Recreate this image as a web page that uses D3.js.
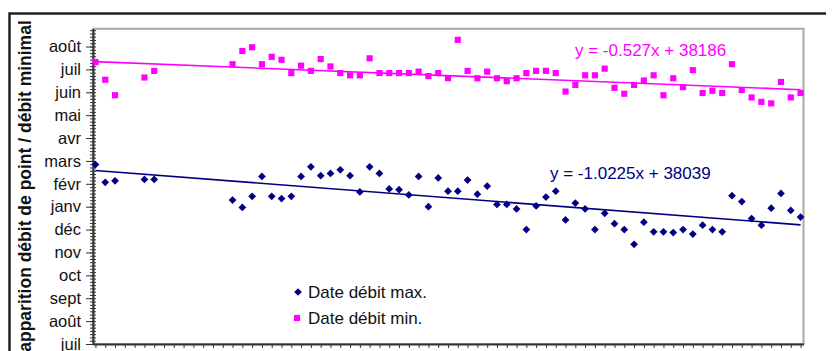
<!DOCTYPE html>
<html>
<head>
<meta charset="utf-8">
<title>Date des débits max / min</title>
<style>
  body { margin: 0; background: #fff; }
  svg { display: block; font-family: Arial, "Liberation Sans", sans-serif; }
  .axis path, .axis line { stroke: #333; }
  .axis text { font-size: 16.5px; fill: #111; }
  .frame { fill: none; stroke: #222; stroke-width: 2.5; }
  .plot-border { fill: none; stroke: #a8a8a8; stroke-width: 2; }
  .title { font-size: 17.5px; font-weight: bold; fill: #111; }
  .legend text { font-size: 17px; fill: #111; }
  .eq { font-size: 17px; }
</style>
</head>
<body>
<svg width="833" height="351"></svg>
<script src="https://cdnjs.cloudflare.com/ajax/libs/d3/7.8.5/d3.min.js"></script>
<script>
// x = year number (1..73), y = excel date serial of the day the flow happened
var years = d3.range(1, 74);

var dateMax = [38046, 38022, 38024, null, null, 38026, 38026, null, null, null,
               null, null, null, null, 37998, 37988, 38003, 38030, 38003, 38000,
               38003, 38030, 38043, 38031, 38034, 38039, 38031, 38009, 38043, 38034,
               38013, 38012, 38005, 38030, 37989, 38028, 38010, 38010, 38025, 38006,
               38017, 37992, 37992, 37986, 37958, 37990, 38002, 38010, 37971, 37994,
               37986, 37958, 37980, 37966, 37958, 37938, 37968, 37955, 37955, 37954,
               37958, 37952, 37964, 37958, 37955, 38004, 37996, 37973, 37964, 37987,
               38007, 37984, 37975];

var dateMin = [38185, 38161, 38140, null, null, 38164, 38173, null, null, null,
               null, null, null, null, 38182, 38200, 38205, 38182, 38192, 38188,
               38170, 38180, 38173, 38189, 38179, 38170, 38167, 38167, 38190, 38170,
               38170, 38170, 38170, 38172, 38166, 38170, 38163, 38215, 38173, 38163,
               38172, 38163, 38159, 38163, 38170, 38173, 38173, 38170, 38145, 38154,
               38167, 38167, 38176, 38150, 38142, 38154, 38160, 38167, 38140, 38163,
               38151, 38174, 38143, 38146, 38143, 38182, 38147, 38137, 38131, 38129,
               38158, 38137, 38143];

// trend lines as printed on the chart: [slope, intercept]
var trendMax = [-1.0225, 38039];
var trendMin = [-0.527, 38186];

var monthLabels = ["juil", "août", "sept", "oct", "nov", "déc", "janv",
                   "févr", "mars", "avr", "mai", "juin", "juil", "août"];
var yStart = 37803, yEnd = 38230, yStep = 31;

var seriesNames = ["Date débit max.", "Date débit min."];
var colors = ["#000080", "#ff00ff"];

var svg = d3.select("svg");

var pLeft = 93, pRight = 803.5, pTop = 28.8, pBottom = 344;

var x = d3.scaleLinear().domain([0.75, 73.3]).range([pLeft, pRight]);
var y = d3.scaleLinear().domain([yStart, yEnd]).range([pBottom, pTop]);

var majorTicks = monthLabels.map(function(d, i) { return yStart + i * yStep; });
var minorTicks = d3.range(yStart, yEnd, yStep / 7);

// outer chart frame (only top and left visible)
svg.append("path")
    .attr("class", "frame")
    .attr("d", "M9.5,351V13.5H826");

svg.append("rect")
    .attr("class", "plot-border")
    .attr("x", pLeft).attr("y", pTop)
    .attr("width", pRight - pLeft).attr("height", pBottom - pTop);

// y axis
svg.append("g")
    .attr("class", "axis")
    .attr("transform", "translate(" + pLeft + ",0)")
    .call(d3.axisLeft(y).tickValues(minorTicks).tickSize(3).tickSizeOuter(0).tickFormat(""));
svg.append("g")
    .attr("class", "axis")
    .attr("transform", "translate(" + pLeft + ",0)")
    .call(d3.axisRight(y).tickValues(minorTicks).tickSize(3).tickSizeOuter(0).tickFormat(""));
var yAxis = svg.append("g")
    .attr("class", "axis")
    .attr("transform", "translate(" + pLeft + ",0)")
    .call(d3.axisLeft(y).tickValues(majorTicks).tickSize(7).tickSizeOuter(0)
      .tickPadding(5)
      .tickFormat(function(d, i) { return monthLabels[i]; }));
yAxis.selectAll(".domain").attr("stroke-width", 2);

// x axis (its labels fall below the visible area)
svg.append("g")
    .attr("class", "axis")
    .attr("transform", "translate(0," + pBottom + ")")
    .call(d3.axisBottom(x).tickValues(years).tickSize(4).tickSizeOuter(0).tickFormat(""))
    .selectAll(".domain").attr("stroke-width", 2);

svg.append("text")
    .attr("class", "title")
    .attr("transform", "translate(31,186) rotate(-90)")
    .attr("text-anchor", "middle")
    .text("apparition débit de point / débit minimal");

// trend lines
var line = d3.line()
    .x(function(d) { return x(d[0]); })
    .y(function(d) { return y(d[1]); });

function trendPts(t) {
  return [1, 73].map(function(k) { return [k, t[0] * k + t[1]]; });
}

[trendMax, trendMin].forEach(function(t, i) {
  svg.append("path")
      .attr("d", line(trendPts(t)))
      .attr("fill", "none")
      .attr("stroke", colors[i])
      .attr("stroke-width", 1.6);
});

// points
var diamond = d3.symbol(d3.symbolSquare, 30);
var square = d3.symbol(d3.symbolSquare, 38);

function pts(vals) {
  return years.map(function(yr, i) { return [yr, vals[i]]; })
    .filter(function(d) { return d[1] != null; });
}

svg.append("g").selectAll("path")
    .data(pts(dateMax))
  .enter().append("path")
    .attr("d", diamond)
    .attr("fill", colors[0])
    .attr("transform", function(d) {
      return "translate(" + x(d[0]) + "," + y(d[1]) + ") rotate(45)";
    });

svg.append("g").selectAll("path")
    .data(pts(dateMin))
  .enter().append("path")
    .attr("d", square)
    .attr("fill", colors[1])
    .attr("transform", function(d) {
      return "translate(" + x(d[0]) + "," + y(d[1]) + ")";
    });

// equations
function eqText(t) {
  return "y = " + t[0] + "x + " + t[1];
}
svg.append("text").attr("class", "eq")
    .attr("x", 575).attr("y", 56)
    .attr("fill", colors[1])
    .text(eqText(trendMin));
svg.append("text").attr("class", "eq")
    .attr("x", 550).attr("y", 179)
    .attr("fill", colors[0])
    .text(eqText(trendMax));

// legend
var legend = svg.append("g").attr("class", "legend")
    .attr("transform", "translate(298,292)");

legend.append("path")
    .attr("d", diamond)
    .attr("fill", colors[0])
    .attr("transform", "rotate(45)");
legend.append("path")
    .attr("d", square)
    .attr("fill", colors[1])
    .attr("transform", "translate(-1,26)");

legend.selectAll("text")
    .data(seriesNames)
  .enter().append("text")
    .attr("x", 10)
    .attr("y", function(d, i) { return i * 26 + 6; })
    .text(function(d) { return d; });
</script>
</body>
</html>
